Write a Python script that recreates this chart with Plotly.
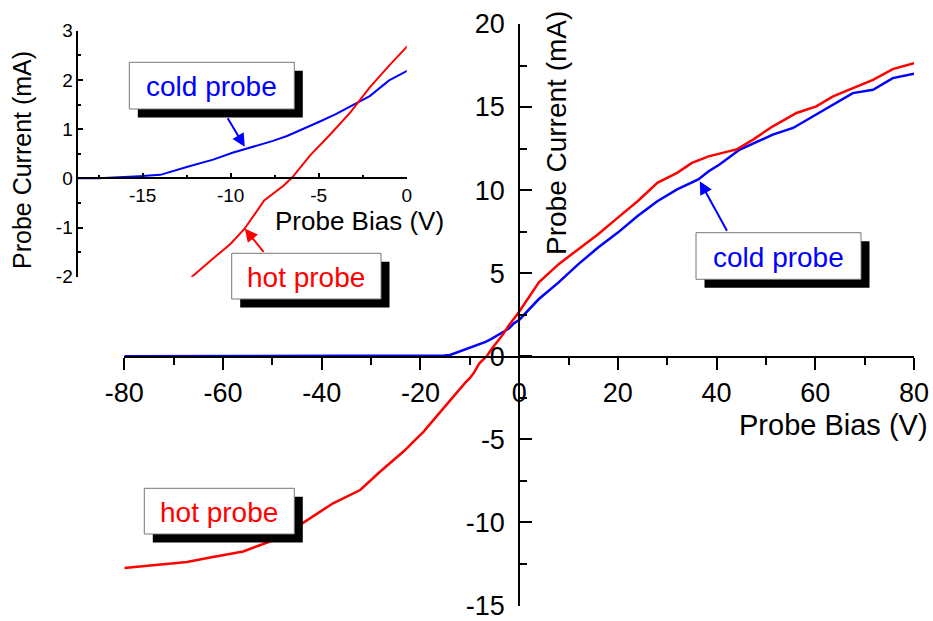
import plotly.graph_objects as go

# Probe I-V characteristics (bias in V, current in mA)
hot_bias = [-80, -74, -67.3, -62.6, -55.9, -50.5, -44.4, -40.3, -37.7, -32.2, -28.2, -23.5,
            -19.4, -15.4, -12.2, -11, -10, -9.2, -8.1, -7, -6.5, -5.5, -4.4, -3.2, -2.1, -1, 0,
            4, 8, 12, 16, 20, 24, 28, 32, 35, 38.4, 42.4, 44, 47.4, 51.4, 56.2, 60.2, 63.6,
            67.6, 71.7, 75.7, 80]
hot_current = [-12.76, -12.6, -12.4, -12.12, -11.76, -11.16, -10.16, -9.36, -8.86, -8.06,
               -6.96, -5.76, -4.56, -3.16, -2.0, -1.63, -1.33, -1.02, -0.45, -0.15, 0.02,
               0.46, 0.87, 1.34, 1.85, 2.29, 2.67, 4.44, 5.54, 6.44, 7.34, 8.34, 9.33, 10.44,
               11.04, 11.64, 12.03, 12.33, 12.44, 13.04, 13.84, 14.64, 15.04, 15.64, 16.14,
               16.64, 17.28, 17.64]

cold_bias = [-80, -17.5, -15.2, -14, -12.5, -11, -9.9, -8.7, -7.6, -6.8, -5.7, -4.9, -4, -3,
             -2.1, -1, 0, 4, 8, 12, 16, 20, 24, 28, 32, 36.3, 38.4, 40.6, 44.7, 51.4, 55.5,
             60.2, 63.6, 67.6, 71.7, 75.7, 80]
cold_current = [0, 0, 0.04, 0.07, 0.23, 0.38, 0.52, 0.64, 0.76, 0.86, 1.03, 1.16, 1.31, 1.5,
                1.67, 1.99, 2.18, 3.44, 4.44, 5.54, 6.54, 7.44, 8.44, 9.33, 10.04, 10.64,
                11.13, 11.54, 12.44, 13.34, 13.74, 14.54, 15.14, 15.84, 16.04, 16.74, 17.0]

main_xticks = [-80, -60, -40, -20, 0, 20, 40, 60, 80]
main_xlabels = ["-80", "-60", "-40", "-20", "0", "20", "40", "60", "80"]
main_yticks = [-15, -10, -5, 0, 5, 10, 15, 20]
main_ylabels = ["-15", "-10", "-5", "0", "5", "10", "15", "20"]
inset_xticks = [-15, -10, -5, 0]
inset_xlabels = ["-15", "-10", "-5", "0"]
inset_yticks = [-2, -1, 0, 1, 2, 3]
inset_ylabels = ["-2", "-1", "0", "1", "2", "3"]

W, H = 933, 621
FONT = "Arial"
BLUE = "#0000FF"
RED = "#FF0000"


def px(x):
    return x / W


def py(y):
    return 1 - y / H


fig = go.Figure()

# main panel
fig.add_trace(go.Scatter(x=cold_bias, y=cold_current, mode="lines",
                         line=dict(color=BLUE, width=2.5), xaxis="x", yaxis="y"))
fig.add_trace(go.Scatter(x=hot_bias, y=hot_current, mode="lines",
                         line=dict(color=RED, width=2.5), xaxis="x", yaxis="y"))
# inset panel (close-up near the floating potential)
fig.add_trace(go.Scatter(x=cold_bias, y=cold_current, mode="lines",
                         line=dict(color=BLUE, width=2), xaxis="x2", yaxis="y2"))
fig.add_trace(go.Scatter(x=hot_bias, y=hot_current, mode="lines",
                         line=dict(color=RED, width=2), xaxis="x2", yaxis="y2"))

main_tick_font = dict(family=FONT, size=27, color="black")
inset_tick_font = dict(family=FONT, size=19, color="black")

fig.update_layout(
    width=W, height=H,
    margin=dict(l=0, r=0, t=0, b=0, autoexpand=False),
    paper_bgcolor="white", plot_bgcolor="rgba(0,0,0,0)",
    showlegend=False,
    xaxis=dict(domain=[px(124.3), px(914)], range=[-80, 80], anchor="free",
               position=py(356.8), showgrid=False, zeroline=False, automargin=False,
               ticklabeloverflow="allow",
               showline=True, linecolor="black", linewidth=2,
               ticks="outside", ticklen=12, tickwidth=2, tickcolor="black",
               tickvals=main_xticks, ticktext=main_xlabels, tickfont=main_tick_font,
               minor=dict(ticks="outside", ticklen=7, tickwidth=2, dtick=10,
                          tick0=0, tickcolor="black")),
    yaxis=dict(domain=[py(605.6), py(24)], range=[-15.02, 20], anchor="free",
               position=px(519.3), side="left", showgrid=False, zeroline=False,
               automargin=False, ticklabelstandoff=8, ticklabeloverflow="allow",
               showline=True, linecolor="black", linewidth=2,
               ticks="inside", ticklen=12, tickwidth=2, tickcolor="black",
               tickvals=main_yticks, ticktext=main_ylabels, tickfont=main_tick_font,
               minor=dict(ticks="inside", ticklen=7, tickwidth=2, dtick=2.5,
                          tick0=0, tickcolor="black")),
    xaxis2=dict(domain=[px(78.3), px(406.7)], range=[-18.66, 0], anchor="free",
                position=py(178.3), showgrid=False, zeroline=False, automargin=False,
                ticklabeloverflow="allow",
                showline=True, linecolor="black", linewidth=1.5,
                ticks="inside", ticklen=5, tickwidth=1.5, tickcolor="black",
                tickvals=inset_xticks, ticktext=inset_xlabels, tickfont=inset_tick_font,
                minor=dict(ticks="inside", ticklen=3, tickwidth=1.5, dtick=2.5,
                           tick0=0, tickcolor="black")),
    yaxis2=dict(domain=[py(276.7), py(30.7)], range=[-2, 3], anchor="x2",
                side="left", showgrid=False, zeroline=False, automargin=False,
                ticklabeloverflow="allow",
                showline=True, linecolor="black", linewidth=1.5,
                ticks="inside", ticklen=5, tickwidth=1.5, tickcolor="black",
                tickvals=inset_yticks, ticktext=inset_ylabels, tickfont=inset_tick_font,
                minor=dict(ticks="inside", ticklen=3, tickwidth=1.5, dtick=0.5,
                           tick0=0, tickcolor="black")),
)

annotations = []


def text_note(x, y, text, size, color="black", angle=0):
    annotations.append(dict(x=px(x), y=py(y), xref="paper", yref="paper", text=text,
                            showarrow=False, textangle=angle, xanchor="center",
                            yanchor="middle",
                            font=dict(family=FONT, size=size, color=color)))


# axis titles
text_note(833, 425, "Probe Bias (V)", 29)
text_note(556, 133, "Probe Current (mA)", 28, angle=-90)
text_note(359, 221, "Probe Bias (V)", 26)
text_note(22, 160, "Probe Current (mA)", 25, angle=-90)

shapes = []


def label_box(x0, y0, x1, y1, text, color, dx=8.5, dy=8.5):
    shapes.append(dict(type="rect", xref="paper", yref="paper",
                       x0=px(x0 + dx), x1=px(x1 + dx), y0=py(y0 + dy), y1=py(y1 + dy),
                       fillcolor="black", line=dict(width=0), layer="above"))
    shapes.append(dict(type="rect", xref="paper", yref="paper",
                       x0=px(x0), x1=px(x1), y0=py(y0), y1=py(y1),
                       fillcolor="white", line=dict(color="#777777", width=1),
                       layer="above"))
    text_note((x0 + x1) / 2, (y0 + y1) / 2 + 1, text, 28, color=color)


label_box(129.3, 62.3, 294.3, 109, "cold probe", BLUE)
label_box(231.7, 253.3, 381, 299, "hot probe", RED)
label_box(696, 232.7, 861, 279.3, "cold probe", BLUE)
label_box(144.3, 488.3, 294.3, 534, "hot probe", RED)


def pointer(x, y, xr, yr, ax, ay, color):
    annotations.append(dict(x=x, y=y, xref=xr, yref=yr, ax=ax, ay=ay, text="",
                            showarrow=True, arrowhead=2, arrowsize=1.3, arrowwidth=2,
                            arrowcolor=color))


pointer(-9.2, 0.64, "x2", "y2", -18, -30, BLUE)
pointer(-9.2, -1.02, "x2", "y2", 20, 25, RED)
pointer(36.6, 10.53, "x", "y", 28, 51, BLUE)

fig.update_layout(annotations=annotations, shapes=shapes)

fig.write_html("out.html")
